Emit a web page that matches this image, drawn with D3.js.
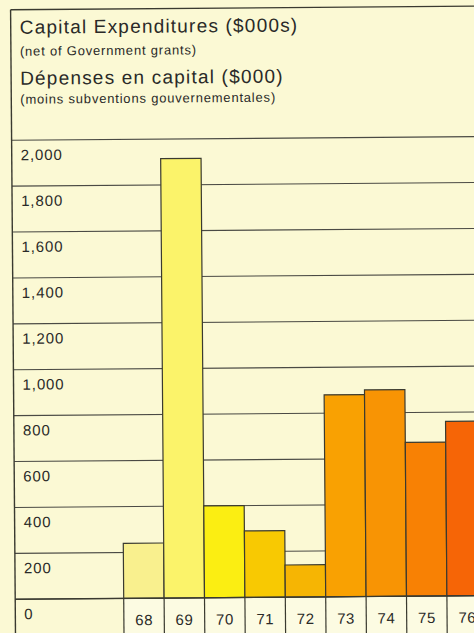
<!DOCTYPE html>
<html>
<head>
<meta charset="utf-8">
<script src="https://cdn.jsdelivr.net/npm/d3@7/dist/d3.min.js"></script>
<style>
  html, body { margin: 0; padding: 0; background: #fbf9d4; }
  svg { display: block; }
  text { font-family: "Liberation Sans", Arial, Helvetica, sans-serif; fill: #2a2a28; }
</style>
</head>
<body>
<svg id="chart" width="474" height="633"></svg>
<script>
// ---- data ----
const years = ["68", "69", "70", "71", "72", "73", "74", "75", "76"];
const expenditures = [240, 1915, 400, 290, 140, 880, 900, 670, 760];
const barColors = ["#f9f08e", "#fbf36a", "#fbee12", "#f8c902", "#f6b503", "#f9a102", "#f89404", "#f88104", "#f66506"];
const yTicks = [0, 200, 400, 600, 800, 1000, 1200, 1400, 1600, 1800, 2000];
const titleLines = [
  { text: "Capital Expenditures ($000s)", big: true },
  { text: "(net of Government grants)", big: false },
  { text: "Dépenses en capital ($000)", big: true },
  { text: "(moins subventions gouvernementales)", big: false }
];

const W = 474, H = 633;
const frameLeft = 13, frameTop = 8;
const svg = d3.select("#chart");

svg.append("rect").attr("width", W).attr("height", H).attr("fill", "#fbf9d4");

const g = svg.append("g").attr("transform", "rotate(-0.45, 237, 316)");

const y = d3.scaleLinear().domain([0, 2000]).range([597.5, 138.5]);
const x = d3.scaleBand().domain(years).range([121.5, 121.5 + 40.4 * years.length]).padding(0);

// bottom label cells (lighter)
g.append("rect")
  .attr("x", x.range()[0]).attr("y", y(0))
  .attr("width", W + 20 - x.range()[0]).attr("height", H - y(0) + 10)
  .attr("fill", "#fcfbe2");

// gridlines
g.append("g").selectAll("line").data(yTicks).join("line")
  .attr("x1", frameLeft).attr("x2", W + 20)
  .attr("y1", d => y(d)).attr("y2", d => y(d))
  .attr("stroke", "#4a4a44").attr("stroke-width", 1.1);

// y labels (below their gridline)
g.append("g").selectAll("text").data(yTicks).join("text")
  .attr("x", frameLeft + 9)
  .attr("y", d => y(d) + 20)
  .attr("font-size", 15)
  .attr("letter-spacing", 0.9)
  .text(d => d3.format(",")(d));

// bars
g.append("g").selectAll("rect").data(years).join("rect")
  .attr("x", d => x(d))
  .attr("y", (d, i) => y(expenditures[i]))
  .attr("width", x.bandwidth())
  .attr("height", (d, i) => y(0) - y(expenditures[i]))
  .attr("fill", (d, i) => barColors[i])
  .attr("stroke", "#3a3a30").attr("stroke-width", 1.2);

// bottom category axis: dividers + labels
const xAxis = d3.axisBottom(x).tickSize(0).tickPadding(0);
const ax = g.append("g").attr("transform", `translate(0,${y(0)})`).call(xAxis);
ax.select(".domain").remove();
ax.selectAll(".tick text")
  .attr("y", 27).attr("dy", 0)
  .attr("font-size", 15)
  .attr("letter-spacing", 0.6)
  .attr("font-family", "Liberation Sans, Arial, sans-serif")
  .attr("fill", "#2a2a28");

g.append("g").selectAll("line").data(years.concat(["_end"])).join("line")
  .attr("x1", (d, i) => x.range()[0] + i * x.step())
  .attr("x2", (d, i) => x.range()[0] + i * x.step())
  .attr("y1", y(0)).attr("y2", H + 10)
  .attr("stroke", "#3a3a30").attr("stroke-width", 1.2);

// baseline
g.append("line").attr("x1", frameLeft).attr("x2", W + 20)
  .attr("y1", y(0)).attr("y2", y(0))
  .attr("stroke", "#3a3a30").attr("stroke-width", 1.3);

// frame
g.append("line").attr("x1", frameLeft).attr("x2", frameLeft)
  .attr("y1", frameTop).attr("y2", H + 10)
  .attr("stroke", "#3a3a30").attr("stroke-width", 1.4);
g.append("line").attr("x1", frameLeft).attr("x2", W + 20)
  .attr("y1", frameTop).attr("y2", frameTop)
  .attr("stroke", "#3a3a30").attr("stroke-width", 1.4);

// titles
const titleY = [32, 54, 83, 102];
g.append("g").selectAll("text").data(titleLines).join("text")
  .attr("x", 22)
  .attr("y", (d, i) => titleY[i])
  .attr("font-size", d => d.big ? 19 : 13)
  .attr("letter-spacing", d => d.big ? 1.2 : 0.8)
  .text(d => d.text);
</script>
</body>
</html>
